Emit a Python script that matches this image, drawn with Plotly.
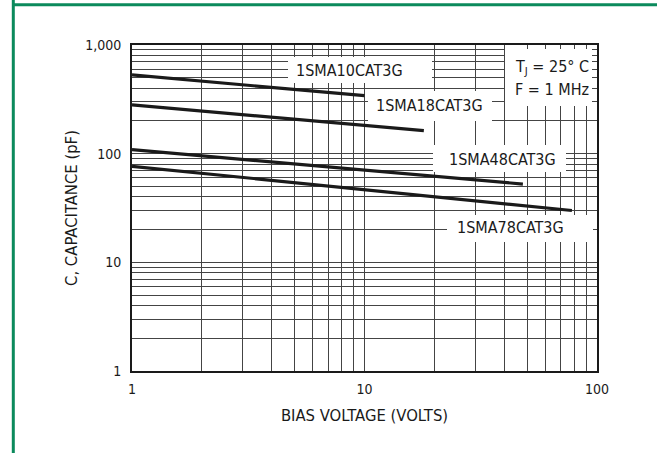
import plotly.graph_objects as go

# ---- data ----
series_names = ["1SMA10CAT3G", "1SMA18CAT3G", "1SMA48CAT3G", "1SMA78CAT3G"]
v_10 = [1, 10]
c_10 = [530, 342]
v_18 = [1, 18]
c_18 = [281, 163]
v_48 = [1, 48]
c_48 = [109, 52.5]
v_78 = [1, 78]
c_78 = [76.5, 30]

x_major = [1, 10, 100]
x_major_text = ["1", "10", "100"]
y_major = [1, 10, 100, 1000]
y_major_text = ["1", "10", "100", "1,000"]

cond_text = ["T<sub>J</sub> = 25° C", "F = 1 MHz"]
x_title = "BIAS VOLTAGE (VOLTS)"
y_title = "C, CAPACITANCE (pF)"

# ---- layout geometry ----
W, H = 657, 453
L, R, T, B = 132, 60, 45, 82
PW, PH = W - L - R, H - T - B
FONT = "DejaVu Sans Condensed, Liberation Sans Narrow, sans-serif"
GRID = "#444444"
GREEN = "#0b8a5c"
INK = "#1a1a1a"


def px(xp):
    return (xp - L) / PW


def py(yp):
    return (H - B - yp) / PH


def all_ticks(majors):
    vals = []
    for i, m in enumerate(majors):
        vals.append(m)
        if i < len(majors) - 1:
            for k in range(2, 10):
                vals.append(m * k)
    return vals


xv = all_ticks(x_major)
xt = [x_major_text[x_major.index(v)] if v in x_major else " " for v in xv]
yv = all_ticks(y_major)
yt = [y_major_text[y_major.index(v)] if v in y_major else " " for v in yv]

fig = go.Figure()
for v, c, n in [(v_10, c_10, series_names[0]), (v_18, c_18, series_names[1]),
                (v_48, c_48, series_names[2]), (v_78, c_78, series_names[3])]:
    fig.add_trace(go.Scatter(x=v, y=c, mode="lines", name=n,
                             line=dict(color=INK, width=3.2), showlegend=False))

# white label boxes (cover the grid; they do not reach any data line)
boxes = [(288, 57, 432, 83), (368, 91, 492, 121), (505, 49, 592, 106),
         (433, 145, 566, 172), (447, 215, 593, 242)]
shapes = []
for x0, y0, x1, y1 in boxes:
    shapes.append(dict(type="rect", xref="paper", yref="paper", layer="above",
                       x0=px(x0), x1=px(x1), y0=py(y1), y1=py(y0),
                       fillcolor="white", line=dict(width=0)))
# green frame
shapes.append(dict(type="line", xref="paper", yref="paper", layer="above",
                   x0=px(13.3), x1=px(13.3), y0=py(-20), y1=py(470),
                   line=dict(color=GREEN, width=3)))
shapes.append(dict(type="line", xref="paper", yref="paper", layer="above",
                   x0=px(12), x1=px(700), y0=py(4.7), y1=py(4.7),
                   line=dict(color=GREEN, width=3)))

labels = [(series_names[0], 349, 70.7), (series_names[1], 429, 105.7),
          (series_names[2], 502.5, 159), (series_names[3], 510.5, 227)]
annotations = []
for t, x, y in labels:
    annotations.append(dict(text=t, xref="paper", yref="paper", x=px(x), y=py(y),
                            xanchor="center", yanchor="middle", showarrow=False,
                            font=dict(family=FONT, size=16, color=INK)))
for t, y in zip(cond_text, [67, 89]):
    annotations.append(dict(text=t, xref="paper", yref="paper", x=px(513), y=py(y),
                            xanchor="left", yanchor="middle", showarrow=False,
                            font=dict(family=FONT, size=16, color=INK)))

axis_common = dict(type="log", showgrid=True, gridcolor=GRID, gridwidth=1,
                   showline=True, linecolor=INK, linewidth=2, mirror=True,
                   ticks="", zeroline=False, tickangle=0,
                   tickfont=dict(family=FONT, size=14, color=INK))

fig.update_layout(
    width=W, height=H,
    margin=dict(l=L, r=R, t=T, b=B, autoexpand=False),
    paper_bgcolor="white", plot_bgcolor="white",
    xaxis=dict(axis_common, range=[0, 2], tickmode="array", tickvals=xv, ticktext=xt,
               ticklabelstandoff=4,
               title=dict(text=x_title, standoff=14,
                          font=dict(family=FONT, size=16.5, color=INK))),
    yaxis=dict(axis_common, range=[0, 3], tickmode="array", tickvals=yv, ticktext=yt,
               ticklabelstandoff=6,
               title=dict(text=y_title, standoff=3,
                          font=dict(family=FONT, size=16.5, color=INK))),
    shapes=shapes,
    annotations=annotations,
)

fig.write_html("out.html", config={"displayModeBar": False},
               post_script="document.body.style.margin='0';document.body.style.overflow='hidden';")
